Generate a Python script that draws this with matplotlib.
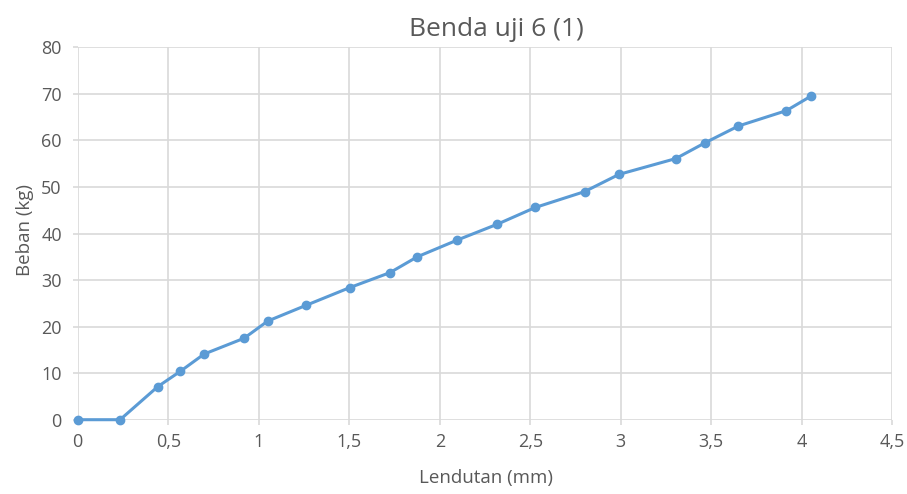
import matplotlib
matplotlib.use("Agg")
import matplotlib.pyplot as plt
from matplotlib.ticker import FuncFormatter

plt.rcParams['font.family'] = ['Open Sans', 'DejaVu Sans']

lendutan = [0, 0.234, 0.442, 0.567, 0.698, 0.919, 1.05, 1.26, 1.504, 1.725, 1.876,
            2.097, 2.318, 2.528, 2.800, 2.990, 3.304, 3.466, 3.650, 3.915, 4.050]
beban = [0, 0, 7.1, 10.4, 14.1, 17.5, 21.2, 24.55, 28.4, 31.6, 35.0,
         38.6, 42.0, 45.6, 49.0, 52.7, 56.1, 59.5, 63.1, 66.4, 69.5]

title = "Benda uji 6 (1)"
xlabel = "Lendutan (mm)"
ylabel = "Beban (kg)"
xticks = [0, 0.5, 1, 1.5, 2, 2.5, 3, 3.5, 4, 4.5]
yticks = [0, 10, 20, 30, 40, 50, 60, 70, 80]

TXT = '#595959'
GRID = '#d9d9d9'

fig = plt.figure(figsize=(9.07, 4.94), dpi=100)
ax = fig.add_axes([0.0857, 0.1504, 0.8981, 0.7538])

ax.plot(lendutan, beban, color='#5b9bd5', linewidth=2.2, marker='o',
        markersize=6, zorder=3, clip_on=False)

ax.set_xlim(0, 4.5)
ax.set_ylim(0, 80)
ax.set_xticks(xticks)
ax.set_yticks(yticks)
ax.xaxis.set_major_formatter(FuncFormatter(lambda v, p: ('%g' % v).replace('.', ',')))
ax.grid(True, color=GRID, linewidth=1.2)
ax.set_axisbelow(True)
for s in ax.spines.values():
    s.set_visible(False)
ax.tick_params(axis='both', length=3.5, width=1.2, color=GRID, direction='out',
               labelsize=13, labelcolor=TXT)
ax.tick_params(axis='x', pad=6)
ax.tick_params(axis='y', pad=8)

fig.text(0.5474, 1 - 30 / 494, title, fontsize=19, color=TXT, ha='center', va='center')
fig.text(0.5353, 1 - 478 / 494, xlabel, fontsize=13.5, color=TXT, ha='center', va='center')
fig.text(25 / 907, 1 - 230.5 / 494, ylabel, fontsize=13.5, color=TXT, ha='center',
         va='center', rotation=90)

fig.savefig("out.png", dpi=100, facecolor='white')
